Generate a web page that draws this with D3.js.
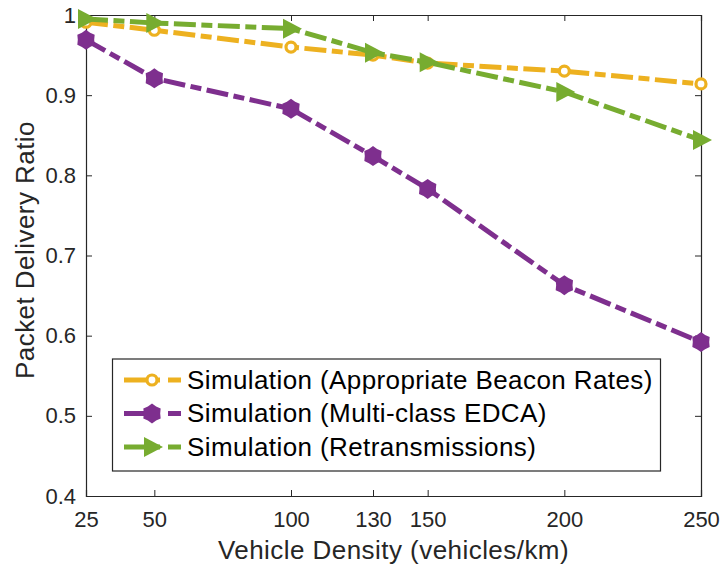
<!DOCTYPE html>
<html>
<head>
<meta charset="utf-8">
<script src="https://cdn.jsdelivr.net/npm/d3@7"></script>
<style>
  body { margin: 0; background: #fff; }
  text { font-family: "Liberation Sans", Arial, sans-serif; }
</style>
</head>
<body>
<div id="chart"></div>
<script>
const density = [25, 50, 100, 130, 150, 200, 250];
const beaconRates = [0.991, 0.981, 0.960, 0.950, 0.940, 0.930, 0.914];
const multiEdca = [0.969, 0.921, 0.883, 0.824, 0.783, 0.663, 0.592];
const retrans = [0.995, 0.990, 0.983, 0.953, 0.941, 0.904, 0.844];
const yTicks = [0.4, 0.5, 0.6, 0.7, 0.8, 0.9, 1];

const series = [
  { name: 'Simulation (Appropriate Beacon Rates)', values: beaconRates, color: '#EDB120', marker: 'circle' },
  { name: 'Simulation (Multi-class EDCA)', values: multiEdca, color: '#7E2F8E', marker: 'hexagram' },
  { name: 'Simulation (Retransmissions)', values: retrans, color: '#77AC30', marker: 'triangle' }
];

const width = 722, height = 567;
const margin = { left: 86, right: 21, top: 15, bottom: 71 };
const axisColor = '#262626';

const svg = d3.select('#chart').append('svg')
  .attr('width', width)
  .attr('height', height);

const x = d3.scaleLinear().domain([25, 250]).range([margin.left, width - margin.right]);
const y = d3.scaleLinear().domain([0.4, 1]).range([height - margin.bottom, margin.top]);

// axes, ticks pointing inward (matlab style)
const xAxis = d3.axisBottom(x).tickValues(density).tickSize(-6).tickPadding(15).tickFormat(d3.format('d'));
const yAxis = d3.axisLeft(y).tickValues(yTicks).tickSize(-6).tickPadding(10).tickFormat(d => d === 1 ? '1' : d3.format('.1f')(d));

svg.append('g').attr('transform', `translate(0,${y(0.4)})`).call(xAxis);
svg.append('g').attr('transform', `translate(${x(25)},0)`).call(yAxis);
svg.append('g').attr('transform', `translate(0,${y(1)})`)
  .call(d3.axisTop(x).tickValues(density).tickSize(-6).tickFormat(''));
svg.append('g').attr('transform', `translate(${x(250)},0)`)
  .call(d3.axisRight(y).tickValues(yTicks).tickSize(-6).tickFormat(''));

svg.selectAll('.domain').attr('stroke', axisColor).attr('stroke-width', 1.2);
svg.selectAll('.tick line').attr('stroke', axisColor);
svg.selectAll('.tick text').attr('fill', axisColor).style('font-size', '22px');

// axis labels
svg.append('text')
  .attr('x', (x(25) + x(250)) / 2)
  .attr('y', 559)
  .attr('text-anchor', 'middle')
  .attr('fill', axisColor)
  .style('font-size', '26px')
  .style('letter-spacing', '0.45px')
  .text('Vehicle Density (vehicles/km)');

svg.append('text')
  .attr('transform', 'translate(34,250) rotate(-90)')
  .attr('text-anchor', 'middle')
  .attr('fill', axisColor)
  .style('font-size', '26px')
  .style('letter-spacing', '0.45px')
  .text('Packet Delivery Ratio');

const line = d3.line().x((d, i) => x(density[i])).y(d => y(d));

// six-pointed star with shallow points, looks like matlab's hexagram at this size
function hexagram(ro, ri) {
  const pts = d3.range(12).map(k => {
    const a = k * Math.PI / 6 - Math.PI / 2;
    const r = k % 2 ? ri : ro;
    return [r * Math.cos(a), r * Math.sin(a)];
  });
  return 'M' + pts.join('L') + 'Z';
}

function drawMarker(g, type, color) {
  if (type === 'circle') {
    g.append('circle').attr('r', 5).attr('fill', '#fff').attr('stroke', color).attr('stroke-width', 3.2);
  } else if (type === 'hexagram') {
    g.append('path').attr('d', hexagram(10, 8.2)).attr('fill', color);
  } else {
    g.append('path').attr('d', 'M-8,-10 L11,0 L-8,10 Z').attr('fill', color);
  }
}

series.forEach(s => {
  svg.append('path')
    .datum(s.values)
    .attr('d', line)
    .attr('fill', 'none')
    .attr('stroke', s.color)
    .attr('stroke-width', 5)
    .attr('stroke-dasharray', '22,5.5,11,5.5');

  s.values.forEach((v, i) => {
    const g = svg.append('g').attr('transform', `translate(${x(density[i])},${y(v)})`);
    drawMarker(g, s.marker, s.color);
  });
});

// legend
const legend = svg.append('g');
legend.append('rect')
  .attr('x', 112.5).attr('y', 359)
  .attr('width', 548).attr('height', 112)
  .attr('fill', '#fff')
  .attr('stroke', axisColor)
  .attr('stroke-width', 1.2);

series.forEach((s, i) => {
  const ly = 380 + i * 33.5;
  legend.append('line')
    .attr('x1', 124).attr('x2', 181).attr('y1', ly).attr('y2', ly)
    .attr('stroke', s.color).attr('stroke-width', 5)
    .attr('stroke-dasharray', '36,8,13');
  const g = legend.append('g').attr('transform', `translate(152,${ly})`);
  drawMarker(g, s.marker, s.color);
  legend.append('text')
    .attr('x', 187).attr('y', ly + 8.5)
    .attr('fill', '#000')
    .style('font-size', '26px')
    .style('letter-spacing', '0.4px')
    .text(s.name);
});
</script>
</body>
</html>
